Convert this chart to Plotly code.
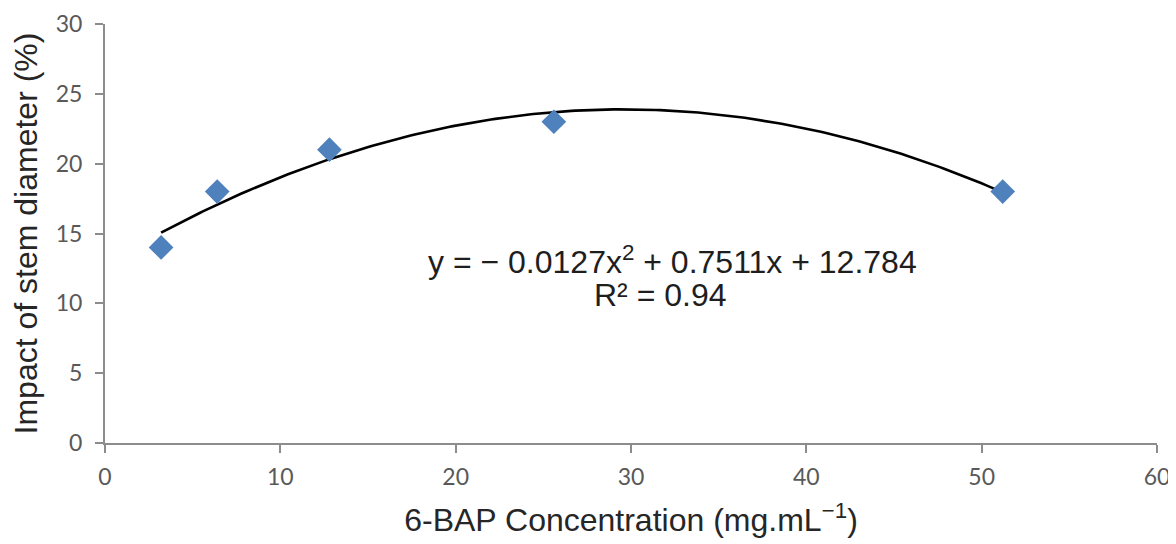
import numpy as np
import plotly.graph_objects as go

# Data
concentration = [3.2, 6.4, 12.8, 25.6, 51.2]
impact = [14, 18, 21, 23, 18]

# Polynomial (order 2) trendline coefficients as printed on the chart
trend_coefs = [-0.0127, 0.7511, 12.784]
r_squared = 0.94

x_ticks = [0, 10, 20, 30, 40, 50, 60]
y_ticks = [0, 5, 10, 15, 20, 25, 30]

trend_x = np.linspace(min(concentration), max(concentration), 200)
trend_y = np.polyval(trend_coefs, trend_x)

fig = go.Figure()
fig.add_trace(go.Scatter(
    x=trend_x, y=trend_y, mode="lines",
    line=dict(color="black", width=2.6), showlegend=False, hoverinfo="skip"))
fig.add_trace(go.Scatter(
    x=concentration, y=impact, mode="markers",
    marker=dict(symbol="diamond", size=19, color="#4F81BD",
                line=dict(width=0)), showlegend=False))

eq_font = dict(family="Liberation Sans, Arial", size=32, color="#1e1e1e")
fig.add_annotation(x=32.35, y=13.1, xref="x", yref="y",
                   text="y = − 0.0127x<sup>2</sup> + 0.7511x + 12.784",
                   showarrow=False, font=eq_font)
fig.add_annotation(x=31.7, y=10.6, xref="x", yref="y",
                   text=f"R² = {r_squared}",
                   showarrow=False, font=eq_font)

axis_common = dict(showgrid=False, zeroline=False, showline=True,
                   linecolor="#8c8c8c", linewidth=2, ticks="outside",
                   ticklen=8, tickwidth=2, tickcolor="#8c8c8c", automargin=False,
                   tickfont=dict(family="Lato, Open Sans", size=23, color="#595959"))

title_font = dict(family="Liberation Sans, Arial", size=32, color="#262626")

fig.update_layout(
    width=1176, height=544,
    margin=dict(l=97, r=27, t=16, b=109),
    plot_bgcolor="white", paper_bgcolor="white",
    xaxis=dict(range=[0, 60], tickvals=x_ticks, ticklabelstandoff=4, **axis_common,
               title=dict(text="6-BAP Concentration (mg.mL<sup>−1</sup>)",
                          font=title_font, standoff=20)),
    yaxis=dict(range=[0, 30], tickvals=y_ticks, ticklabelstandoff=8, **axis_common,
               title=dict(text="Impact of stem diameter (%)",
                          font=title_font, standoff=12)),
)

fig.write_html("out.html")
